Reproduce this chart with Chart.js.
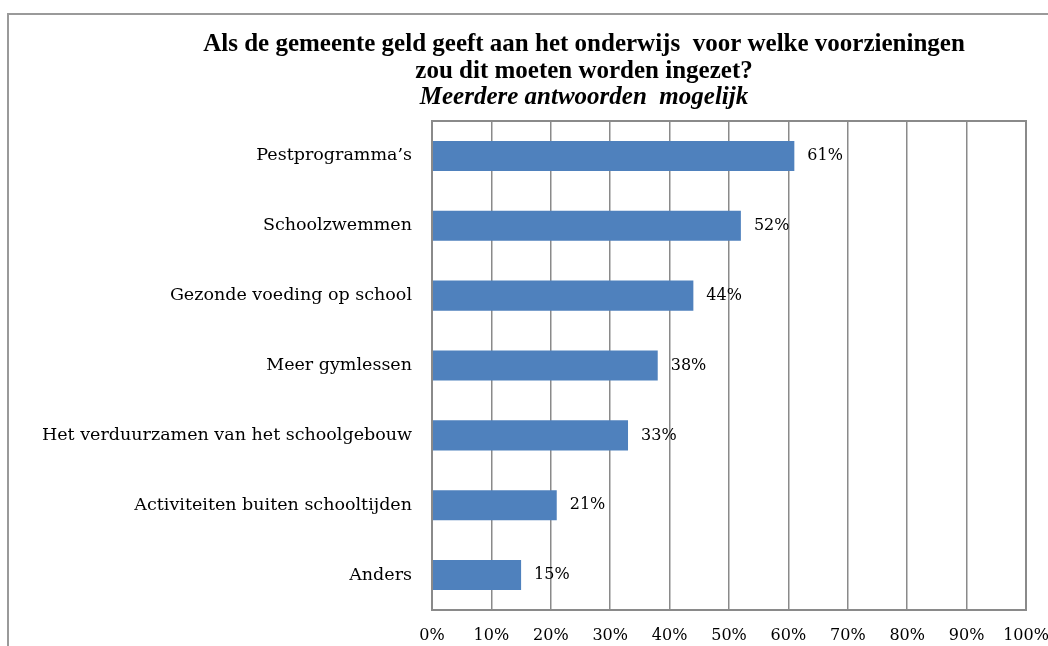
<!DOCTYPE html>
<html>
<head>
<meta charset="utf-8">
<script src="https://cdn.jsdelivr.net/npm/chart.js@4"></script>
<style>
  html, body { margin: 0; padding: 0; background: #fff; }
  #wrap { position: relative; width: 1048px; height: 646px; }
</style>
</head>
<body>
<div id="wrap"><canvas id="voorzieningenChart" width="1048" height="646"></canvas></div>
<script>
// Gegevens
const titelRegels = ['Als de gemeente geld geeft aan het onderwijs  voor welke voorzieningen', 'zou dit moeten worden ingezet?'];
const subtitel = 'Meerdere antwoorden  mogelijk';
const categorieen = ['Pestprogramma\u2019s', 'Schoolzwemmen', 'Gezonde voeding op school', 'Meer gymlessen', 'Het verduurzamen van het schoolgebouw', 'Activiteiten buiten schooltijden', 'Anders'];
const percentages = [61, 52, 44, 38, 33, 21, 15];
const asTicks = [0, 10, 20, 30, 40, 50, 60, 70, 80, 90, 100];

const serif = '"DejaVu Serif", "Liberation Serif", serif';
const grijs = '#8a8a8a';

// Kader, titel en waardelabels
const tekenPlugin = {
    id: 'tekenPlugin',
    beforeDraw(chart) {
        const ctx = chart.ctx;
        ctx.save();
        ctx.strokeStyle = '#9a9a9a';
        ctx.lineWidth = 2;
        ctx.strokeRect(8, 14, 1200, 800);
        ctx.restore();
    },
    afterDraw(chart) {
        const ctx = chart.ctx;
        const area = chart.chartArea;
        ctx.save();
        // rand rond plotgebied
        ctx.strokeStyle = grijs;
        ctx.lineWidth = 2;
        ctx.strokeRect(area.left, area.top, area.right - area.left, area.bottom - area.top);

        // titel
        ctx.fillStyle = '#000';
        ctx.textAlign = 'center';
        ctx.textBaseline = 'middle';
        ctx.font = 'bold 25px "Liberation Serif", serif';
        ctx.fillText(titelRegels[0], 584, 45);
        ctx.fillText(titelRegels[1], 584, 72);
        ctx.font = 'italic bold 25px "Liberation Serif", serif';
        ctx.fillText(subtitel, 584, 98);

        // waardelabels
        ctx.font = '16px ' + serif;
        ctx.textAlign = 'left';
        const meta = chart.getDatasetMeta(0);
        meta.data.forEach((bar, i) => {
            ctx.fillText(percentages[i] + '%', bar.x + 13, bar.y);
        });
        ctx.restore();
    }
};

new Chart(document.getElementById('voorzieningenChart').getContext('2d'), {
    type: 'bar',
    data: {
        labels: categorieen,
        datasets: [{
            data: percentages,
            backgroundColor: '#4f81bd',
            barPercentage: 0.43,
            categoryPercentage: 1
        }]
    },
    options: {
        indexAxis: 'y',
        responsive: false,
        animation: false,
        layout: { padding: { top: 121, right: 22, left: 0, bottom: 0 } },
        plugins: {
            legend: { display: false },
            tooltip: { enabled: false }
        },
        scales: {
            x: {
                min: 0,
                max: 100,
                afterBuildTicks: (axis) => { axis.ticks = asTicks.map(v => ({ value: v })); },
                afterFit: (axis) => {
                    axis.height = 36;
                    axis.paddingLeft = 0;
                    axis.paddingRight = 0;
                },
                grid: { color: grijs, lineWidth: 1.5, drawTicks: false },
                border: { color: grijs, width: 2 },
                ticks: {
                    color: '#000',
                    padding: 16,
                    font: { family: serif, size: 16 },
                    callback: (v) => v + '%'
                }
            },
            y: {
                afterFit: (axis) => {
                    axis.width = 432;
                    axis.paddingTop = 0;
                    axis.paddingBottom = 0;
                },
                grid: { display: false, drawTicks: false },
                border: { color: grijs, width: 2 },
                ticks: {
                    color: '#000',
                    padding: 20,
                    font: { family: serif, size: 17.5 }
                }
            }
        }
    },
    plugins: [tekenPlugin]
});
</script>
</body>
</html>
